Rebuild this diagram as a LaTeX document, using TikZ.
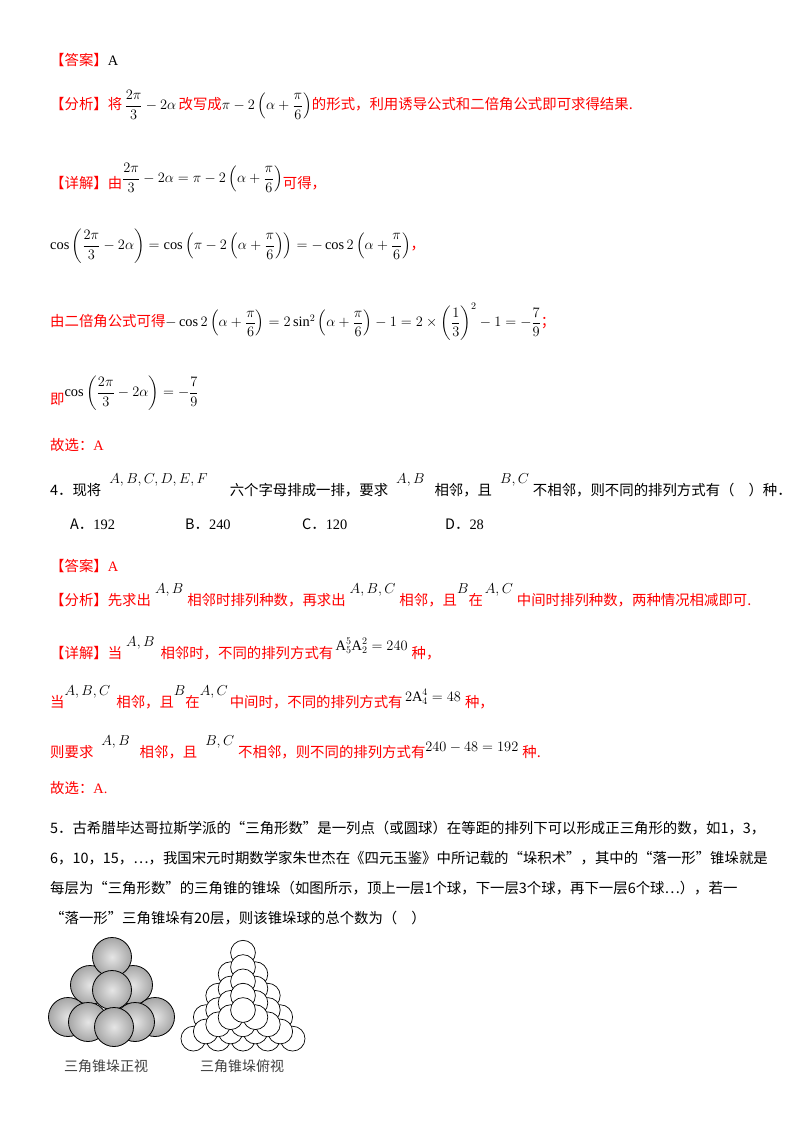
\documentclass[tikz,border=0pt]{standalone}
\usepackage{fontspec}
\usepackage{amsmath}
\setmainfont{Noto Sans CJK SC}
\setmathrm{Liberation Serif}
\newfontfamily\lat{Liberation Serif}
\newcommand{\Rd}[1]{{\color{red}#1}}
\begin{document}
\begin{tikzpicture}[x=1pt,y=-1pt,
  txt/.style={anchor=west,inner sep=0pt,font=\fontsize{14.4}{16}\selectfont},
  ball/.style={draw=black,line width=0.8pt,shading=radial,inner color=gray!20,outer color=gray!70},
  wball/.style={draw=black,line width=0.7pt,fill=white},
  figcap/.style={inner sep=0pt,font=\fontsize{14}{16}\selectfont,text=black!75}]
\useasboundingbox (0,0) rectangle (800,1132);
\fill[white] (0,0) rectangle (800,1132);

\node[txt] (l1) at (50,60) {\Rd{【答案】}{\lat A}};
\node[txt] (l2) at (50,105) {\Rd{【分析】将}\,$\dfrac{2\pi}{3}-2\alpha$\,\Rd{改写成}$\pi-2\left(\alpha+\dfrac{\pi}{6}\right)$\Rd{的形式，利用诱导公式和二倍角公式即可求得结果.}};
\node[txt] (l3) at (50,178) {\Rd{【详解】由}\raisebox{6pt}{$\dfrac{2\pi}{3}-2\alpha=\pi-2\left(\alpha+\dfrac{\pi}{6}\right)$}\Rd{可得，}};
\node[txt] (l4) at (50,246) {$\cos\left(\dfrac{2\pi}{3}-2\alpha\right)=\cos\left(\pi-2\left(\alpha+\dfrac{\pi}{6}\right)\right)=-\cos2\left(\alpha+\dfrac{\pi}{6}\right)$\Rd{，}};
\node[txt] (l5) at (50,322) {\Rd{由二倍角公式可得}$-\cos2\left(\alpha+\dfrac{\pi}{6}\right)=2\sin^2\left(\alpha+\dfrac{\pi}{6}\right)-1=2\times\left(\dfrac{1}{3}\right)^2-1=-\dfrac{7}{9}$\Rd{；}};
\node[txt] (l6) at (50,393) {\Rd{即}\raisebox{8pt}{$\cos\left(\dfrac{2\pi}{3}-2\alpha\right)=-\dfrac{7}{9}$}};
\node[txt] (l7) at (50,445) {\Rd{故选：{\lat A}}};

\node[txt] (q4) at (50,485) {4．现将\hspace{8pt}\raisebox{12pt}{$A,B,C,D,E,F$}\hspace{22pt}六个字母排成一排，要求\hspace{8pt}\raisebox{12pt}{$A,B$}\hspace{10pt}相邻，且\hspace{8pt}\raisebox{12pt}{$B,C$}\hspace{4pt}不相邻，则不同的排列方式有（\hspace{14pt}）种．};
\node[txt] (oa) at (70,524) {A．{\lat 192}};
\node[txt] (ob) at (185,524) {B．{\lat 240}};
\node[txt] (oc) at (302,524) {C．{\lat 120}};
\node[txt] (od) at (445,524) {D．{\lat 28}};

\node[txt] (a1) at (50,566) {\Rd{【答案】{\lat A}}};
\node[txt] (a2) at (50,595) {\Rd{【分析】先求出}\hspace{4pt}\raisebox{12pt}{$A,B$}\hspace{4pt}\Rd{相邻时排列种数，再求出}\hspace{4pt}\raisebox{12pt}{$A,B,C$}\hspace{4pt}\Rd{相邻，且}\raisebox{12pt}{$B$}\Rd{在}\hspace{2pt}\raisebox{12pt}{$A,C$}\hspace{4pt}\Rd{中间时排列种数，两种情况相减即可.}};
\node[txt] (a3) at (50,648) {\Rd{【详解】当}\hspace{4pt}\raisebox{12pt}{$A,B$}\hspace{6pt}\Rd{相邻时，不同的排列方式有}\,\raisebox{8pt}{$\mathrm{A}_5^5\mathrm{A}_2^2=240$}\hspace{4pt}\Rd{种，}};
\node[txt] (a4) at (50,697) {\Rd{当}\raisebox{12pt}{$A,B,C$}\hspace{6pt}\Rd{相邻，且}\raisebox{12pt}{$B$}\Rd{在}\raisebox{12pt}{$A,C$}\hspace{2pt}\Rd{中间时，不同的排列方式有}\,\raisebox{6pt}{$2\mathrm{A}_4^4=48$}\hspace{4pt}\Rd{种，}};
\node[txt] (a5) at (50,747) {\Rd{则要求}\hspace{8pt}\raisebox{12pt}{$A,B$}\hspace{10pt}\Rd{相邻，且}\hspace{8pt}\raisebox{12pt}{$B,C$}\hspace{4pt}\Rd{不相邻，则不同的排列方式有}\raisebox{6pt}{$240-48=192$}\hspace{4pt}\Rd{种.}};
\node[txt] (a6) at (50,788) {\Rd{故选：{\lat A.}}};

\node[txt] (p1) at (50,828) {5．古希腊毕达哥拉斯学派的“三角形数”是一列点（或圆球）在等距的排列下可以形成正三角形的数，如1，3，};
\node[txt] (p2) at (50,858) {6，10，15，…，我国宋元时期数学家朱世杰在《四元玉鉴》中所记载的“垛积术”，其中的“落一形”锥垛就是};
\node[txt] (p3) at (50,888) {每层为“三角形数”的三角锥的锥垛（如图所示，顶上一层1个球，下一层3个球，再下一层6个球…），若一};
\node[txt] (p4) at (50,918) {“落一形”三角锥垛有20层，则该锥垛球的总个数为（\hspace{14pt}）};

% front view
\foreach \x/\y in {90/985,133/985,112/957,68/1017,155/1017,112/990,88/1022,135/1022,114/1027}
  \shade[ball] (\x,\y) circle (19.5);

% top view
\def\rr{12.4}\def\cx{243}\def\cy{1010}
\foreach \n in {5,4,3,2,1}{
  \foreach \j in {1,...,\n}{
    \foreach \k in {1,...,\j}{
      \pgfmathsetmacro\px{\cx+(2*\k-\j-1)*\rr}
      \pgfmathsetmacro\py{\cy-2/3*(\n-1)*1.732*\rr+(\j-1)*1.732*\rr}
      \filldraw[wball] (\px,\py) circle (\rr);
    }}}

\node[figcap] (c1) at (106,1066) {三角锥垛正视};
\node[figcap] (c2) at (242,1066) {三角锥垛俯视};
\end{tikzpicture}
\end{document}
